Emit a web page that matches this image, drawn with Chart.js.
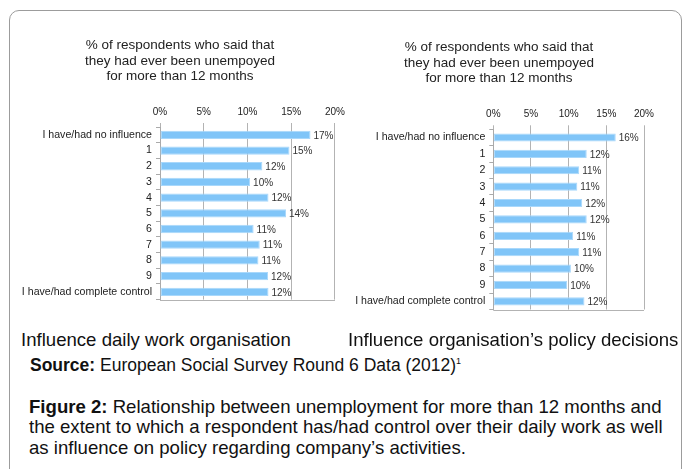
<!DOCTYPE html>
<html>
<head>
<meta charset="utf-8">
<title>Unemployment and influence at work</title>
<script src="https://cdn.jsdelivr.net/npm/chart.js@4.4.1/dist/chart.umd.min.js"></script>
<style>
    body {
        margin: 0;
        width: 683px;
        height: 469px;
        overflow: hidden;
        background: #fff;
        font-family: "Liberation Sans", Arial, sans-serif;
        color: #111;
    }
    #frame {
        position: absolute;
        left: 9px;
        top: 10px;
        width: 673px;
        height: 490px;
        border: 1.5px solid #9c9c9c;
        border-radius: 10px;
        box-sizing: border-box;
    }
    canvas { position: absolute; top: 0; }
    #graficoDaily { left: 0; }
    #graficoPolicy { left: 345px; }
    .txt { position: absolute; white-space: nowrap; }
    .titulo {
        position: absolute;
        width: 260px;
        text-align: center;
        font-size: 13.5px;
        color: #222;
    }
    #tituloDaily { left: 50px; top: 37.3px; line-height: 15.5px; }
    #tituloPolicy { left: 369px; top: 38.8px; line-height: 15.8px; }
    .sub { font-size: 18.6px; line-height: 22px; top: 329px; }
    #source { left: 30px; top: 355px; font-size: 17.5px; line-height: 21px; }
    #caption { left: 29px; top: 396.5px; font-size: 18.6px; line-height: 20.6px; }
    sup { font-size: 9px; vertical-align: 7px; line-height: 0; }
</style>
</head>
<body>
<div id="frame"></div>
<canvas id="graficoDaily" width="350" height="310"></canvas>
<canvas id="graficoPolicy" width="338" height="320"></canvas>

<div class="titulo" id="tituloDaily"></div>
<div class="titulo" id="tituloPolicy"></div>

<div class="txt sub" style="left:21px">Influence daily work organisation</div>
<div class="txt sub" style="left:348px">Influence organisation’s policy decisions</div>
<div class="txt" id="source"><b>Source:</b> European Social Survey Round 6 Data (2012)<sup>1</sup></div>
<div class="txt" id="caption"><b>Figure 2:</b> Relationship between unemployment for more than 12 months and<br>the extent to which a respondent has/had control over their daily work as well<br>as influence on policy regarding company’s activities.</div>

<script>
// Answer scale, from no influence to complete control
const categorias = [
    "I have/had no influence", "1", "2", "3", "4", "5", "6", "7", "8", "9",
    "I have/had complete control"
];

// % ever unemployed for more than 12 months
const dailyWork = [17.2, 14.8, 11.7, 10.3, 12.4, 14.4, 10.7, 11.4, 11.25, 12.35, 12.4];
const policyDecisions = [16.25, 12.4, 11.4, 11.15, 11.8, 12.4, 10.6, 11.4, 10.3, 9.8, 12.1];

const xTicks = [0, 5, 10, 15, 20];

const tituloGrafico = [
    "% of respondents who said that",
    "they had ever been unempoyed",
    "for more than 12 months"
];

const fonte = '"Liberation Sans", Arial, sans-serif';

// Same heading over both charts
["tituloDaily", "tituloPolicy"].forEach(id => {
    document.getElementById(id).innerHTML = tituloGrafico.join("<br>");
});

// Writes the rounded value next to each bar
const valueLabels = {
    id: "valueLabels",
    afterDatasetsDraw(chart) {
        const ctx = chart.ctx;
        const data = chart.data.datasets[0].data;
        ctx.save();
        ctx.font = `10px ${fonte}`;
        ctx.fillStyle = "#333";
        ctx.textBaseline = "middle";
        chart.getDatasetMeta(0).data.forEach((bar, i) => {
            ctx.fillText(Math.round(data[i]) + "%", bar.x + 3, bar.y + 1);
        });
        ctx.restore();
    }
};

// Closing line under the plot area
const bottomLine = {
    id: "bottomLine",
    beforeDatasetsDraw(chart) {
        const { ctx, chartArea } = chart;
        ctx.save();
        ctx.strokeStyle = "#b3b3b3";
        ctx.lineWidth = 1;
        ctx.beginPath();
        ctx.moveTo(chartArea.left, Math.round(chartArea.bottom) + 0.5);
        ctx.lineTo(chartArea.right, Math.round(chartArea.bottom) + 0.5);
        ctx.stroke();
        ctx.restore();
    }
};

function renderizarGrafico(id, valores, cfg) {
    const ctx = document.getElementById(id).getContext("2d");
    new Chart(ctx, {
        type: "bar",
        data: {
            labels: categorias,
            datasets: [{
                data: valores,
                backgroundColor: "#80c5f8",
                borderColor: "#a9d8fb",
                borderWidth: 1,
                borderSkipped: false,
                categoryPercentage: 1,
                barPercentage: cfg.barPct
            }]
        },
        options: {
            indexAxis: "y",
            responsive: false,
            animation: false,
            layout: { padding: cfg.padding },
            plugins: {
                legend: { display: false },
                tooltip: { enabled: false },
                title: { display: false }
            },
            scales: {
                x: {
                    position: "top",
                    min: 0,
                    max: 20,
                    afterBuildTicks: s => { s.ticks = xTicks.map(v => ({ value: v })); },
                    afterFit: s => { s.height = 22; },
                    ticks: {
                        callback: v => v + "%",
                        color: "#222",
                        font: { family: fonte, size: 10 },
                        padding: 5,
                        maxRotation: 0
                    },
                    grid: { color: "#b3b3b3", tickLength: 4 },
                    border: { display: false }
                },
                y: {
                    afterFit: s => { s.width = cfg.yWidth; },
                    ticks: {
                        color: "#222",
                        font: { family: fonte, size: 10.6 },
                        padding: 4,
                        autoSkip: false
                    },
                    grid: {
                        drawOnChartArea: false,
                        tickLength: 4,
                        tickColor: "#aaa"
                    },
                    border: { display: true, color: "#aaa" }
                }
            }
        },
        plugins: [valueLabels, bottomLine]
    });
}

renderizarGrafico("graficoDaily", dailyWork, {
    padding: { top: 105, right: 14, bottom: 9.6, left: 0 },
    yWidth: 160,
    barPct: 0.53
});

renderizarGrafico("graficoPolicy", policyDecisions, {
    padding: { top: 107.3, right: 39, bottom: 10.5, left: 0 },
    yWidth: 148.3,
    barPct: 0.5
});
</script>
</body>
</html>
